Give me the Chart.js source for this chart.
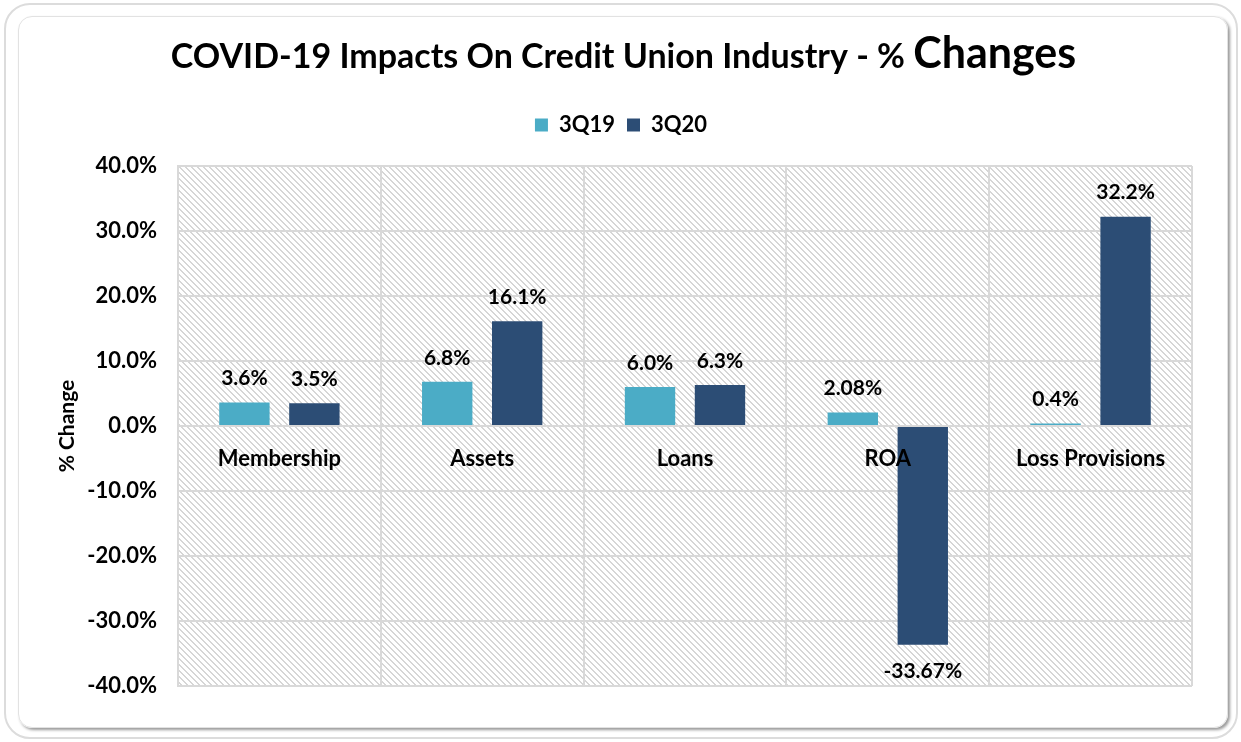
<!DOCTYPE html>
<html>
<head>
<meta charset="utf-8">
<title>COVID-19 Impacts On Credit Union Industry</title>
<script src="https://cdn.jsdelivr.net/npm/chart.js@4.4.0/dist/chart.umd.min.js"></script>
<style>
  html, body { margin: 0; padding: 0; background: #fff; }
  #wrap { position: relative; width: 1241px; height: 742px; overflow: hidden; }
  .outer { position: absolute; left: 4px; top: 3px; width: 1230px; height: 732px;
           border: 2px solid #dcdcdc; border-radius: 26px; }
  .inner { position: absolute; left: 18px; top: 16px; width: 1208px; height: 710px;
           border: 1px solid #e2e2e2; border-radius: 14px; box-shadow: 2px 2px 3px rgba(0,0,0,0.4); }
  #chart { position: absolute; left: 0; top: 0; }
</style>
</head>
<body>
<div id="wrap">
  <div class="outer"></div>
  <div class="inner"></div>
  <canvas id="chart" width="1241" height="742"></canvas>
</div>
<script>
const categories = ['Membership', 'Assets', 'Loans', 'ROA', 'Loss Provisions'];
const series3Q19 = [3.6, 6.8, 6.0, 2.08, 0.4];
const series3Q20 = [3.5, 16.1, 6.3, -33.67, 32.2];
// decimals shown in each bar label
const decimals3Q19 = [1, 1, 1, 2, 1];
const decimals3Q20 = [1, 1, 1, 2, 1];
const yMin = -40;
const yMax = 40;
const yStep = 10;

const titleMain = 'COVID-19 Impacts On Credit Union Industry - % ';
const titleEnd = 'Changes';
const FONT = 'Lato';

// light downward diagonal hatch for the plot area
function makeHatch() {
    const c = document.createElement('canvas');
    c.width = 6;
    c.height = 6;
    const g = c.getContext('2d');
    g.fillStyle = '#fff';
    g.fillRect(0, 0, 6, 6);
    g.fillStyle = '#d6d6d6';
    for (let i = 0; i < 6; i++) {
        g.fillRect(i, i, 1, 1);
        g.fillRect((i + 1) % 6, i, 1, 1);
    }
    return c;
}

const hatchPlugin = {
    id: 'hatch',
    beforeDraw(chart) {
        const {ctx, chartArea} = chart;
        ctx.save();
        ctx.fillStyle = ctx.createPattern(makeHatch(), 'repeat');
        ctx.fillRect(chartArea.left, chartArea.top, chartArea.right - chartArea.left, chartArea.bottom - chartArea.top);
        ctx.restore();
    }
};

const titlePlugin = {
    id: 'mixedTitle',
    afterDraw(chart) {
        const ctx = chart.ctx;
        ctx.save();
        const f1 = `bold 34px ${FONT}`;
        const f2 = `bold 43px ${FONT}`;
        ctx.font = f1;
        const w1 = ctx.measureText(titleMain).width;
        ctx.font = f2;
        const w2 = ctx.measureText(titleEnd).width;
        const x = chart.width / 2 + 3 - (w1 + w2) / 2;
        ctx.fillStyle = '#000';
        ctx.textBaseline = 'alphabetic';
        ctx.font = f1;
        ctx.fillText(titleMain, x, 68);
        ctx.font = f2;
        ctx.fillText(titleEnd, x + w1, 68);
        ctx.restore();
    }
};

const valueLabels = {
    id: 'valueLabels',
    afterDatasetsDraw(chart) {
        const ctx = chart.ctx;
        const decs = [decimals3Q19, decimals3Q20];
        ctx.save();
        ctx.font = `bold 21px ${FONT}`;
        ctx.fillStyle = '#000';
        ctx.textAlign = 'center';
        ctx.textBaseline = 'middle';
        chart.data.datasets.forEach((ds, di) => {
            chart.getDatasetMeta(di).data.forEach((bar, i) => {
                const v = ds.data[i];
                const txt = v.toFixed(decs[di][i]) + '%';
                const y = v >= 0 ? bar.y - 24 : bar.y + 26;
                ctx.fillText(txt, bar.x, y);
            });
        });
        ctx.restore();
    }
};

const legendSpace = {
    id: 'legendSpace',
    beforeInit(chart) {
        const fit = chart.legend.fit;
        chart.legend.fit = function () {
            fit.bind(chart.legend)();
            this.height += 20;
        };
    }
};

const gridColor = '#d9d9d9';

new Chart(document.getElementById('chart'), {
    type: 'bar',
    data: {
        labels: categories,
        datasets: [
            {
                label: '3Q19',
                data: series3Q19,
                backgroundColor: '#4BACC6',
                categoryPercentage: 0.69,
                barPercentage: 0.72
            },
            {
                label: '3Q20',
                data: series3Q20,
                backgroundColor: '#2C4D75',
                categoryPercentage: 0.69,
                barPercentage: 0.72
            }
        ]
    },
    options: {
        responsive: false,
        animation: false,
        layout: {
            padding: { top: 102, left: 50, right: 49, bottom: 56 }
        },
        plugins: {
            legend: {
                position: 'top',
                labels: {
                    boxWidth: 13,
                    boxHeight: 13,
                    padding: 12,
                    color: '#000',
                    font: { family: FONT, size: 22, weight: 'bold' }
                }
            },
            tooltip: { enabled: false }
        },
        scales: {
            x: {
                position: { y: 0 },
                grid: { color: gridColor, lineWidth: 2, drawTicks: false, offset: true },
                border: { color: gridColor, width: 2 },
                ticks: {
                    z: 1,
                    color: '#000',
                    padding: 20,
                    font: { family: FONT, size: 22, weight: 'bold' }
                }
            },
            y: {
                min: yMin,
                max: yMax,
                afterFit(scale) { scale.width = 128; },
                grid: { color: gridColor, lineWidth: 2, drawTicks: false },
                border: { color: gridColor, width: 2 },
                ticks: {
                    stepSize: yStep,
                    color: '#000',
                    padding: 21,
                    font: { family: FONT, size: 22, weight: 'bold' },
                    callback: (v) => v.toFixed(1) + '%'
                },
                title: {
                    display: true,
                    text: '% Change',
                    color: '#000',
                    padding: { top: 5, bottom: 0 },
                    font: { family: FONT, size: 21, weight: 'bold' }
                }
            }
        }
    },
    plugins: [hatchPlugin, titlePlugin, valueLabels, legendSpace]
});
</script>
</body>
</html>
